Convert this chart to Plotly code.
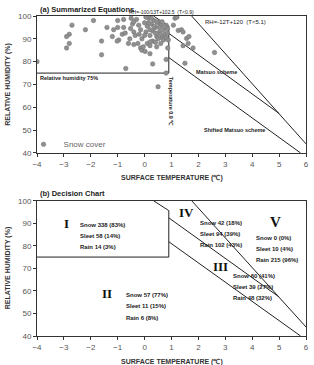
import plotly.graph_objects as go

# ---------------- data ----------------
snow_T = [-4.0, -2.7, -2.8, -2.9, -2.8, -2.9, -1.9, -2.2, -1.6, -1.6,
          -1.4, -1.2, -1.15, -1.0, -1.0, -0.78, -0.78, -0.83, -0.72, -0.96,
          -1.02, -0.6, -0.7, -0.5, -0.45, -0.4, -0.35, -0.4, -0.55, -0.52,
          -0.4, -0.25, -0.15, -0.1, -0.05, 0.02, 0.2, 0.3, 0.5, -0.22,
          -0.15, -0.3, -0.2, -0.1, 0.0, 0.05, 0.1, 0.15, 0.2, 0.25,
          0.3, 0.35, 0.4, 0.45, 0.5, 0.55, 0.6, 0.65, 0.7, 0.75,
          0.8, 0.85, 0.1, 0.2, 0.3, 0.4, 0.5, 0.6, 0.7, 0.05,
          0.15, 0.25, 0.35, 0.45, 0.55, 0.65, 0.75, 0.85, 0.0, 0.2,
          0.4, 0.6, 0.8, 0.21, 0.45, 0.88, 0.86, 0.8, 0.8,
          1.13, 1.07, 1.25, 1.37, 1.43, 1.56, 1.62, 1.43, 1.8, 2.6, 1.5, 1.2, 1.65]
snow_RH = [80, 96, 92, 91, 88, 86, 98, 94, 89, 83,
           95, 91, 94, 98, 95, 98.5, 95, 92, 92.5, 89.5,
           89, 88, 77, 99, 96.5, 93, 91.5, 87.5, 90, 94.5,
           97.5, 88, 86, 85, 86.5, 84.5, 83.5, 79, 69, 96,
           94, 98.5, 92, 90, 97, 93, 95.5, 99, 91.5, 96.5,
           93.5, 98, 95, 91, 97, 93, 96, 90.5, 94, 92,
           96, 94.5, 88, 87, 89, 88.5, 90, 88, 89.5, 99.5,
           97, 99, 95.5, 97.5, 95, 97.5, 95.5, 92.5, 91.5, 94,
           92.5, 92, 90.5, 88.7, 86.5, 89.5, 86, 81, 75,
           99, 96, 93.7, 94, 93, 90.2, 88, 87, 86, 84, 79.3, 99.5, 91]

# boundary lines (T, RH)
box_T = [-4.0, 0.9, 0.9, 0.33]
box_RH = [75, 75, 95.6, 100]
steep_T = [1.75, 6.0]
steep_RH = [100, 44]
matsuo_T = [0.9, 5.0]
matsuo_RH = [92.4, 57.3]
shifted_T = [0.9, 5.8]
shifted_RH = [81.8, 40]

x_ticks = [-4, -3, -2, -1, 0, 1, 2, 3, 4, 5, 6]
y_ticks = [40, 50, 60, 70, 80, 90, 100]

# decision chart classes
classes = ["I", "II", "III", "IV", "V"]
class_lines = {
    "I": ["Snow 338 (83%)", "Sleet 58 (14%)", "Rain 14 (3%)"],
    "II": ["Snow 57 (77%)", "Sleet 11 (15%)", "Rain 6 (8%)"],
    "III": ["Snow 60 (41%)", "Sleet 39 (27%)", "Rain 48 (32%)"],
    "IV": ["Snow 42 (18%)", "Sleet 94 (39%)", "Rain 102 (43%)"],
    "V": ["Snow 0 (0%)", "Sleet 10 (4%)", "Rain 215 (96%)"],
}
# positions: numeral (T, RH, size), text block (T left, first RH)
numeral_pos = {"I": (-2.92, 90, 13), "II": (-1.39, 58.8, 13), "III": (2.82, 71, 13),
               "IV": (1.56, 94.8, 13), "V": (4.86, 90.5, 15)}
text_pos = {"I": (-2.46, 89.3), "II": (-0.77, 58.1), "III": (3.21, 66.7),
            "IV": (1.99, 90.2), "V": (4.07, 83.6)}
line_step = 5.0

LINE = "#222222"
FONT = "Liberation Sans"

fig = go.Figure()

for xa, ya in [("x", "y"), ("x2", "y2")]:
    for tx, ty in [(box_T, box_RH), (steep_T, steep_RH), (matsuo_T, matsuo_RH), (shifted_T, shifted_RH)]:
        fig.add_trace(go.Scatter(x=tx, y=ty, mode="lines", xaxis=xa, yaxis=ya,
                                 line=dict(color=LINE, width=1), showlegend=False,
                                 hoverinfo="skip", cliponaxis=False))

fig.add_trace(go.Scatter(x=snow_T, y=snow_RH, mode="markers", name="Snow cover",
                         xaxis="x", yaxis="y",
                         marker=dict(size=4.5, color="#909090", line=dict(color="#707070", width=0.5)),
                         showlegend=True))

axis_common = dict(showline=True, mirror=True, linecolor="#333333", linewidth=1,
                   ticks="outside", ticklen=3, tickcolor="#333333", showgrid=False,
                   zeroline=False, tickfont=dict(family=FONT, size=8, color="#555555"))

fig.update_layout(
    width=314, height=365,
    margin=dict(l=37, r=5, t=16, b=29),
    paper_bgcolor="white", plot_bgcolor="white",
    xaxis=dict(domain=[0, 1], anchor="y", range=[-4, 6], tickvals=x_ticks, **axis_common),
    yaxis=dict(domain=[0.5719, 1], anchor="x", range=[40, 100], tickvals=y_ticks, **axis_common),
    xaxis2=dict(domain=[0, 1], anchor="y2", range=[-4, 6], tickvals=x_ticks, **axis_common),
    yaxis2=dict(domain=[0, 0.4228], anchor="x2", range=[40, 100], tickvals=y_ticks, **axis_common),
    legend=dict(x=-0.05, y=0.599, xanchor="left", yanchor="middle", bgcolor="rgba(0,0,0,0)",
                font=dict(family=FONT, size=8, color="#666666"), itemwidth=30,
                borderwidth=0),
    showlegend=True,
)

ann = []
def A(**kw):
    base = dict(showarrow=False, font=dict(family=FONT, size=6, color="#222222"))
    base.update(kw)
    ann.append(base)

# titles
A(text="<b>(a) Summarized Equations</b>", xref="paper", yref="paper", x=0.004, y=1.019,
  xanchor="left", yanchor="middle", font=dict(family=FONT, size=7.5, color="#222222"))
A(text="<b>(b) Decision Chart</b>", xref="paper", yref="paper", x=0.004, y=0.444,
  xanchor="left", yanchor="middle", font=dict(family=FONT, size=7.5, color="#222222"))
for yc in [0.786, 0.2125]:
    A(text="<b>RELATIVE HUMIDITY (%)</b>", xref="paper", yref="paper", x=-0.1066, y=yc,
      textangle=-90, xanchor="center", yanchor="middle",
      font=dict(family=FONT, size=7, color="#333333"))
for yc in [0.494, -0.080]:
    A(text="<b>SURFACE TEMPERATURE (\u2103)</b>", xref="paper", yref="paper", x=0.5, y=yc,
      xanchor="center", yanchor="middle", font=dict(family=FONT, size=7, color="#333333"))

# panel (a) labels
A(text="RH=-100/13T+102.5  (T<0.9)", xref="x", yref="paper", x=0.64, y=1.0125,
  xanchor="center", yanchor="middle", font=dict(family=FONT, size=5, color="#222222"))
A(text="RH=-12T+120  (T<5.1)", xref="x", yref="y", x=3.38, y=97.4,
  xanchor="center", yanchor="middle", font=dict(family=FONT, size=6, color="#222222"))
A(text="<b>Relative humidity 75%</b>", xref="x", yref="y", x=-3.97, y=72.8,
  xanchor="left", yanchor="middle", font=dict(family=FONT, size=5.5, color="#222222"))
A(text="<b>Matsuo scheme</b>", xref="x", yref="y", x=2.68, y=75.6,
  xanchor="center", yanchor="middle", font=dict(family=FONT, size=5.5, color="#222222"))
A(text="<b>Shifted Matsuo scheme</b>", xref="x", yref="y", x=3.35, y=50,
  xanchor="center", yanchor="middle", font=dict(family=FONT, size=5.5, color="#222222"))
A(text="<b>Temperature 0.9 \u2103</b>", xref="x", yref="y", x=1.01, y=62.5, textangle=90,
  xanchor="center", yanchor="middle", font=dict(family=FONT, size=5.5, color="#222222"))

# panel (b) labels
for c in classes:
    nx, ny, ns = numeral_pos[c]
    A(text="<b>%s</b>" % c, xref="x2", yref="y2", x=nx, y=ny, xanchor="center", yanchor="middle",
      font=dict(family="Liberation Serif", size=ns, color="#111111"))
    tx, ty = text_pos[c]
    for i, s in enumerate(class_lines[c]):
        A(text="<b>%s</b>" % s, xref="x2", yref="y2", x=tx, y=ty - i * line_step,
          xanchor="left", yanchor="middle", font=dict(family=FONT, size=6, color="#222222"))

fig.update_layout(annotations=ann)
fig.write_html("out.html")
